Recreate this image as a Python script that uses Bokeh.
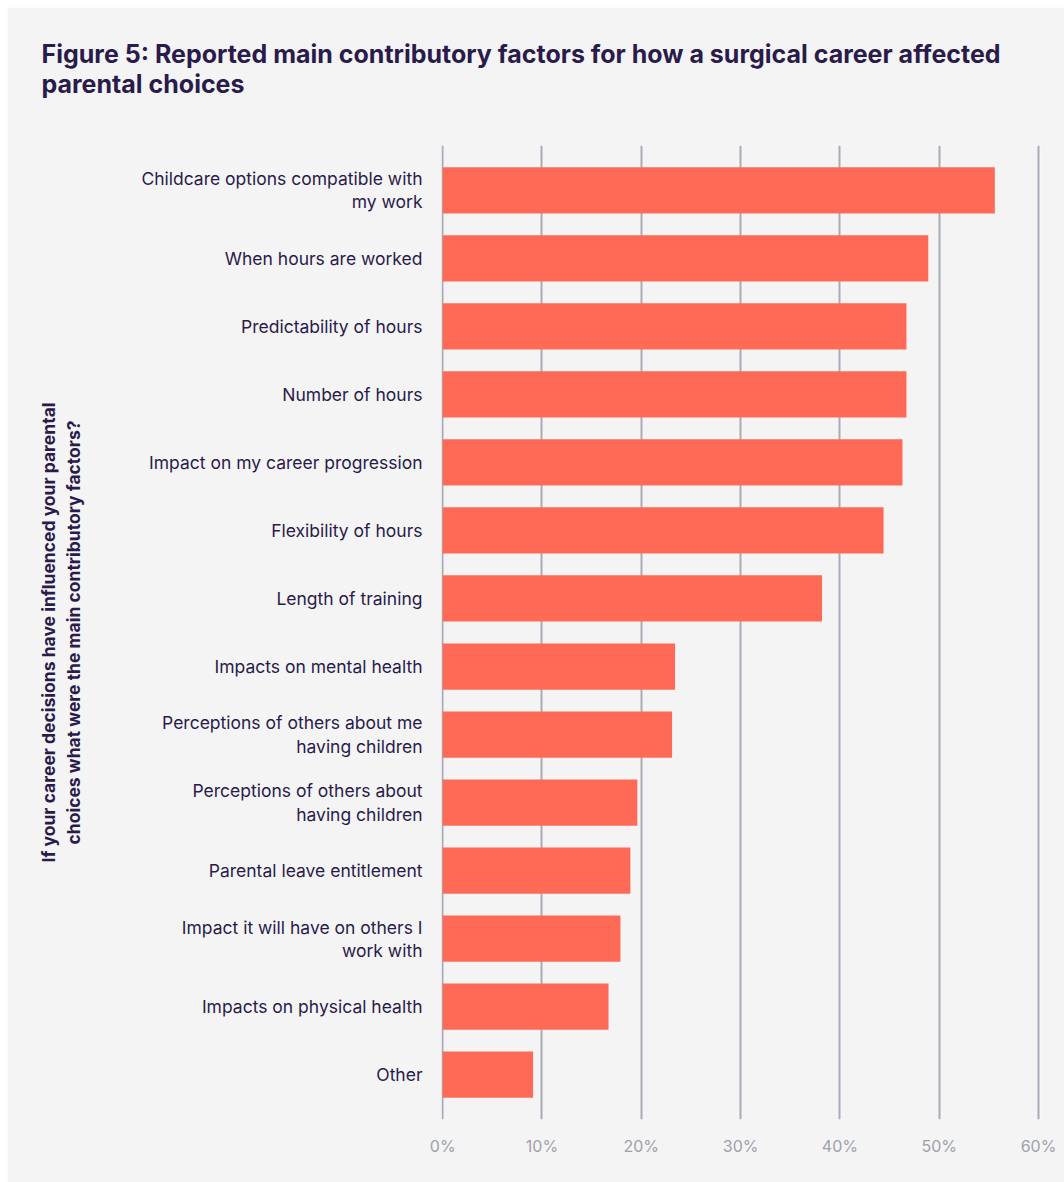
from bokeh.plotting import figure
from bokeh.embed import file_html
from bokeh.resources import INLINE
from bokeh.models import Range1d, FixedTicker, Title

categories = [
    "Childcare options compatible with\nmy work",
    "When hours are worked",
    "Predictability of hours",
    "Number of hours",
    "Impact on my career progression",
    "Flexibility of hours",
    "Length of training",
    "Impacts on mental health",
    "Perceptions of others about me\nhaving children",
    "Perceptions of others about\nhaving children",
    "Parental leave entitlement",
    "Impact it will have on others I\nwork with",
    "Impacts on physical health",
    "Other",
]
values = [55.6, 48.9, 46.7, 46.7, 46.3, 44.4, 38.2, 23.4, 23.1, 19.6, 18.9, 17.9, 16.7, 9.1]
x_ticks = [0, 10, 20, 30, 40, 50, 60]
x_tick_labels = ["0%", "10%", "20%", "30%", "40%", "50%", "60%"]
title_text = "Figure 5: Reported main contributory factors for how a surgical career affected\nparental choices"

TEXT = "#2a1b4b"
FONT = "Inter"

positions = list(range(len(categories)))

p = figure(
    width=1057, height=1175,
    output_backend="svg", toolbar_location=None,
    x_range=Range1d(-0.12, 60.2),
    y_range=Range1d(len(categories) - 1 + 0.66, -0.66),
    min_border_left=434, min_border_right=24,
    min_border_top=138, min_border_bottom=63,
    background_fill_color="#f4f4f4", border_fill_color="#f4f4f4",
    title=title_text,
)
p.margin = (7, 0, 0, 7)
p.outline_line_color = None

p.hbar(y=positions, right=values, left=0, height=0.68, color="#ff6a57", line_color=None)

p.title.text_font = FONT
p.title.text_font_size = "25px"
p.title.text_font_style = "bold"
p.title.text_color = TEXT
p.title.offset = -400
p.title.standoff = 10
p.title.text_line_height = 1.0

# invisible spacer between the title and the plot area
spacer = Title(text=" ", text_font_size="1px", standoff=39, text_color="#f4f4f4")
p.add_layout(spacer, "above")

p.xgrid.ticker = FixedTicker(ticks=x_ticks)
p.xgrid.grid_line_color = "#a9acb6"
p.xgrid.grid_line_width = 2
p.ygrid.grid_line_color = None

xa = p.xaxis[0]
xa.ticker = FixedTicker(ticks=x_ticks)
xa.major_label_overrides = {t: l for t, l in zip(x_ticks, x_tick_labels)}
xa.axis_line_color = None
xa.major_tick_line_color = None
xa.minor_tick_line_color = None
xa.major_label_text_font = FONT
xa.major_label_text_font_size = "16px"
xa.major_label_text_color = "#9ea1ad"
xa.major_label_standoff = 10

ya = p.yaxis[0]
ya.ticker = FixedTicker(ticks=positions)
ya.major_label_overrides = {i: c for i, c in zip(positions, categories)}
ya.axis_line_color = None
ya.major_tick_line_color = None
ya.minor_tick_line_color = None
ya.major_label_text_font = FONT
ya.major_label_text_font_size = "17.5px"
ya.major_label_text_color = TEXT
ya.major_label_standoff = 13
ya.major_label_text_line_height = 1.1
ya.axis_label = "If your career decisions have influenced your parental\nchoices what were the main contributory factors?"
ya.axis_label_text_font = FONT
ya.axis_label_text_font_size = "17.5px"
ya.axis_label_text_font_style = "bold"
ya.axis_label_text_color = TEXT
ya.axis_label_standoff = 54

open("out.html", "w").write(file_html(p, INLINE))
